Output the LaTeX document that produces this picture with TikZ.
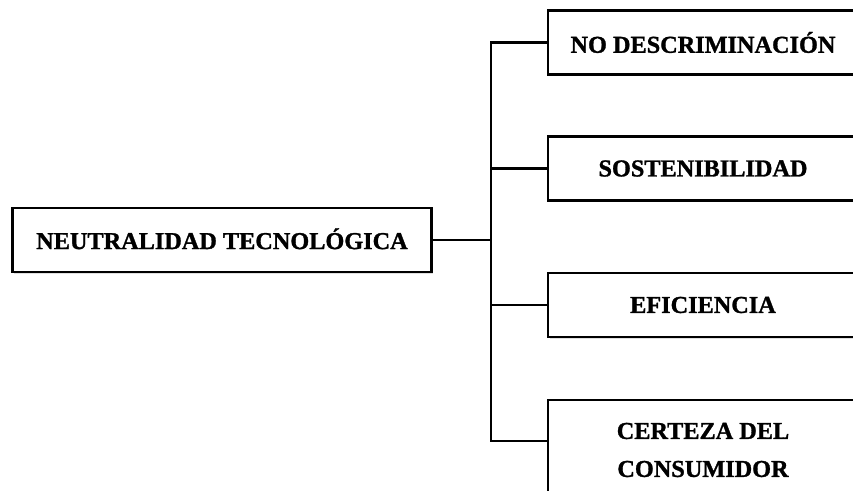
\documentclass[tikz,border=0pt]{standalone}
\usepackage{fontspec}
\setmainfont{Liberation Serif}[BoldFeatures={FakeBold=1.2}]
\usetikzlibrary{positioning,shadows}
\begin{document}
\begin{tikzpicture}[x=0.75pt, y=-0.75pt, line join=miter,
		font=\bfseries\fontsize{18.2}{28.5}\selectfont,
		caja/.style={draw, line width=2.2pt, fill=white, inner sep=0pt, align=center, minimum height=48pt,
			drop shadow={shadow xshift=1.2pt, shadow yshift=-1.2pt, opacity=0.25}},
		hoja/.style={caja, minimum width=232.5pt},
		enlace/.style={line width=2.2pt}]
			\useasboundingbox (0,0) rectangle (853,491);
			\node[caja, minimum width=314pt] (neutral) at (222,240) {\raisebox{2pt}{NEUTRALIDAD TECNOLÓGICA}};
			\node[hoja] (nodesc) at (703,42.5) {NO DESCRIMINACIÓN};
			\node[hoja] (sosten) at (703,168.5) {SOSTENIBILIDAD};
			\node[hoja] (eficien) at (703,305) {EFICIENCIA};
			\node[hoja, minimum height=75pt] (certeza) at (703,450) {CERTEZA DEL\\CONSUMIDOR};
			\coordinate (bus) at (491,240);
			\coordinate (c4) at ([yshift=6.75pt]certeza.west);
			\draw[enlace] (neutral.east) -- (bus);
			\draw[enlace] (nodesc.west) -| (c4 -| bus) -- (c4);
			\draw[enlace] (sosten.west) -- (sosten.west -| bus);
			\draw[enlace] (eficien.west) -- (eficien.west -| bus);
	\end{tikzpicture}
\end{document}
